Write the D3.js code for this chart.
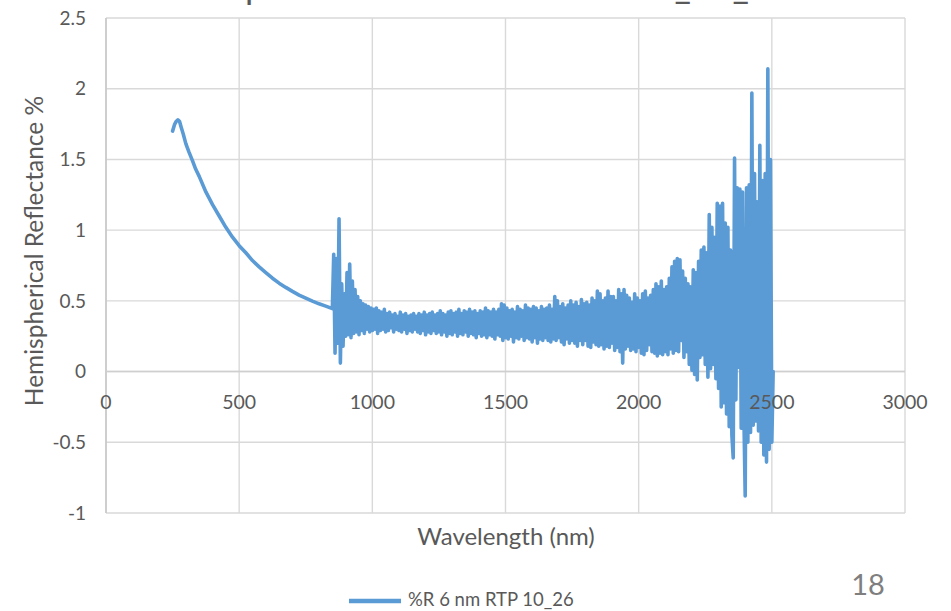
<!DOCTYPE html>
<html>
<head>
<meta charset="utf-8">
<script src="https://cdn.jsdelivr.net/npm/d3@7"></script>
<style>
  html, body { margin: 0; padding: 0; background: #ffffff; overflow: hidden; }
  svg { display: block; }
  text { font-family: Lato, "Open Sans", sans-serif; }
</style>
</head>
<body>
<script>
// ---- Data ----
const titleText = "Hemispherical Reflectance of RTP_10_26";
const seriesName = "%R 6 nm RTP 10_26";
const xTitle = "Wavelength (nm)";
const yTitle = "Hemispherical Reflectance %";
const pageNumber = "18";

const xTicks = [0, 500, 1000, 1500, 2000, 2500, 3000];
const yTicks = [-1, -0.5, 0, 0.5, 1, 1.5, 2, 2.5];
const yTickLabels = ["-1", "-0.5", "0", "0.5", "1", "1.5", "2", "2.5"];

// smooth UV/visible part
const smoothWl = [250, 258, 264, 270, 276, 282, 290, 300, 312, 325, 337, 350, 375, 400, 425, 450, 475, 500, 525, 550, 575, 600, 625, 650, 675, 700, 725, 750, 775, 800, 825, 850];
const smoothR  = [1.70, 1.75, 1.77, 1.78, 1.77, 1.73, 1.68, 1.61, 1.55, 1.49, 1.43, 1.38, 1.27, 1.18, 1.10, 1.02, 0.95, 0.89, 0.84, 0.785, 0.74, 0.70, 0.66, 0.625, 0.595, 0.567, 0.541, 0.519, 0.498, 0.479, 0.463, 0.445];

// noisy NIR part: wavelengths 855..2500 nm every 5 nm, then 2505
const noisyWl = [
  855, 860, 865, 870, 875, 880, 885, 890, 895, 900,
  905, 910, 915, 920, 925, 930, 935, 940, 945, 950,
  955, 960, 965, 970, 975, 980, 985, 990, 995, 1000,
  1005, 1010, 1015, 1020, 1025, 1030, 1035, 1040, 1045, 1050,
  1055, 1060, 1065, 1070, 1075, 1080, 1085, 1090, 1095, 1100,
  1105, 1110, 1115, 1120, 1125, 1130, 1135, 1140, 1145, 1150,
  1155, 1160, 1165, 1170, 1175, 1180, 1185, 1190, 1195, 1200,
  1205, 1210, 1215, 1220, 1225, 1230, 1235, 1240, 1245, 1250,
  1255, 1260, 1265, 1270, 1275, 1280, 1285, 1290, 1295, 1300,
  1305, 1310, 1315, 1320, 1325, 1330, 1335, 1340, 1345, 1350,
  1355, 1360, 1365, 1370, 1375, 1380, 1385, 1390, 1395, 1400,
  1405, 1410, 1415, 1420, 1425, 1430, 1435, 1440, 1445, 1450,
  1455, 1460, 1465, 1470, 1475, 1480, 1485, 1490, 1495, 1500,
  1505, 1510, 1515, 1520, 1525, 1530, 1535, 1540, 1545, 1550,
  1555, 1560, 1565, 1570, 1575, 1580, 1585, 1590, 1595, 1600,
  1605, 1610, 1615, 1620, 1625, 1630, 1635, 1640, 1645, 1650,
  1655, 1660, 1665, 1670, 1675, 1680, 1685, 1690, 1695, 1700,
  1705, 1710, 1715, 1720, 1725, 1730, 1735, 1740, 1745, 1750,
  1755, 1760, 1765, 1770, 1775, 1780, 1785, 1790, 1795, 1800,
  1805, 1810, 1815, 1820, 1825, 1830, 1835, 1840, 1845, 1850,
  1855, 1860, 1865, 1870, 1875, 1880, 1885, 1890, 1895, 1900,
  1905, 1910, 1915, 1920, 1925, 1930, 1935, 1940, 1945, 1950,
  1955, 1960, 1965, 1970, 1975, 1980, 1985, 1990, 1995, 2000,
  2005, 2010, 2015, 2020, 2025, 2030, 2035, 2040, 2045, 2050,
  2055, 2060, 2065, 2070, 2075, 2080, 2085, 2090, 2095, 2100,
  2105, 2110, 2115, 2120, 2125, 2130, 2135, 2140, 2145, 2150,
  2155, 2160, 2165, 2170, 2175, 2180, 2185, 2190, 2195, 2200,
  2205, 2210, 2215, 2220, 2225, 2230, 2235, 2240, 2245, 2250,
  2255, 2260, 2265, 2270, 2275, 2280, 2285, 2290, 2295, 2300,
  2305, 2310, 2315, 2320, 2325, 2330, 2335, 2340, 2345, 2350,
  2355, 2360, 2365, 2370, 2375, 2380, 2385, 2390, 2395, 2400,
  2405, 2410, 2415, 2420, 2425, 2430, 2435, 2440, 2445, 2450,
  2455, 2460, 2465, 2470, 2475, 2480, 2485, 2490, 2495, 2500,
  2505];
const noisyR = [
  0.83, 0.13, 0.80, 0.20, 1.08, 0.06, 0.62, 0.18, 0.55, 0.25,
  0.70, 0.26, 0.76, 0.24, 0.64, 0.27, 0.58, 0.28, 0.53, 0.26,
  0.50, 0.29, 0.48, 0.27, 0.47, 0.30, 0.46, 0.28, 0.45, 0.29,
  0.44, 0.30, 0.45, 0.27, 0.43, 0.29, 0.42, 0.30, 0.44, 0.28,
  0.41, 0.29, 0.42, 0.31, 0.40, 0.28, 0.41, 0.30, 0.39, 0.29,
  0.42, 0.28, 0.40, 0.30, 0.41, 0.27, 0.39, 0.29, 0.40, 0.28,
  0.41, 0.30, 0.39, 0.28, 0.41, 0.27, 0.40, 0.29, 0.42, 0.26,
  0.40, 0.28, 0.41, 0.27, 0.42, 0.29, 0.40, 0.27, 0.41, 0.28,
  0.43, 0.26, 0.41, 0.28, 0.40, 0.25, 0.42, 0.27, 0.43, 0.26,
  0.41, 0.28, 0.42, 0.25, 0.44, 0.27, 0.41, 0.26, 0.43, 0.28,
  0.42, 0.25, 0.44, 0.27, 0.42, 0.26, 0.43, 0.24, 0.41, 0.27,
  0.43, 0.25, 0.42, 0.26, 0.45, 0.24, 0.43, 0.26, 0.42, 0.25,
  0.44, 0.23, 0.42, 0.26, 0.44, 0.25, 0.48, 0.22, 0.47, 0.24,
  0.45, 0.23, 0.43, 0.25, 0.44, 0.21, 0.42, 0.24, 0.46, 0.23,
  0.44, 0.25, 0.43, 0.22, 0.47, 0.24, 0.45, 0.23, 0.44, 0.21,
  0.46, 0.24, 0.45, 0.20, 0.43, 0.23, 0.46, 0.22, 0.44, 0.24,
  0.45, 0.22, 0.47, 0.21, 0.44, 0.23, 0.53, 0.22, 0.50, 0.24,
  0.46, 0.21, 0.48, 0.19, 0.45, 0.23, 0.47, 0.20, 0.50, 0.22,
  0.47, 0.20, 0.49, 0.18, 0.46, 0.22, 0.51, 0.19, 0.48, 0.22,
  0.49, 0.18, 0.47, 0.17, 0.52, 0.21, 0.50, 0.19, 0.57, 0.18,
  0.55, 0.19, 0.50, 0.16, 0.52, 0.18, 0.57, 0.17, 0.53, 0.20,
  0.53, 0.15, 0.50, 0.17, 0.58, 0.14, 0.55, 0.06, 0.58, 0.16,
  0.54, 0.18, 0.52, 0.15, 0.49, 0.16, 0.55, 0.14, 0.52, 0.17,
  0.50, 0.13, 0.55, 0.12, 0.57, 0.15, 0.52, 0.19, 0.54, 0.14,
  0.58, 0.13, 0.62, 0.11, 0.60, 0.13, 0.64, 0.12, 0.58, 0.14,
  0.60, 0.12, 0.66, 0.16, 0.74, 0.13, 0.78, 0.15, 0.80, 0.14,
  0.79, 0.22, 0.71, 0.10, 0.66, 0.14, 0.62, 0.05, 0.60, 0.01,
  0.72, -0.02, 0.70, -0.06, 0.78, 0.10, 0.86, 0.12, 0.88, 0.05,
  0.84, -0.04, 1.11, 0.02, 1.02, 0.05, 0.95, -0.05, 1.19, -0.12,
  1.17, -0.25, 1.19, -0.22, 1.05, -0.30, 1.02, -0.39, 0.86, -0.45,
  -0.61, 1.51, -0.20, 1.30, 0.03, 1.29, -0.40, 1.27, -0.30, -0.88,
  1.30, -0.50, 1.32, -0.43, 1.97, -0.38, 1.40, -0.35, 1.20, -0.42,
  1.60, -0.50, 1.35, -0.59, 1.40, -0.64, 2.14, -0.55, 1.50, -0.50,
  0.00];

// ---- Layout ----
const W = 951, H = 611;
const svg = d3.select("body").append("svg").attr("width", W).attr("height", H);

const x = d3.scaleLinear().domain([0, 3000]).range([106, 905]);
const y = d3.scaleLinear().domain([-1, 2.5]).range([513, 18]);

const textCol = "#595959";
const gridCol = "#d9d9d9";
const lineCol = "#5b9bd5";

// slide title, cut off by the top edge of the picture (only descenders show)
const title = svg.append("text")
  .attr("x", 170).attr("y", -1.5)
  .attr("font-size", 33)
  .attr("fill", textCol)
  .text(titleText);
(function fitTitle() {
  const n = title.node();
  const pIdx = titleText.indexOf("p"), uIdx = titleText.indexOf("_");
  const centre = i => n.getStartPositionOfChar(i).x + n.getExtentOfChar(i).width / 2;
  const gap = centre(uIdx) - centre(pIdx);
  if (gap > 0) {
    const fs = 33 * (683 - 255) / gap;
    title.attr("font-size", fs);
    const shift = 255 - centre(pIdx);
    title.attr("x", 170 + shift);
  }
})();

// gridlines
svg.append("g").selectAll("line").data(yTicks).join("line")
  .attr("x1", x(0)).attr("x2", x(3000))
  .attr("y1", d => y(d)).attr("y2", d => y(d))
  .attr("stroke", gridCol).attr("stroke-width", 1.4);
svg.append("g").selectAll("line").data(xTicks).join("line")
  .attr("y1", y(2.5)).attr("y2", y(-1))
  .attr("x1", d => x(d)).attr("x2", d => x(d))
  .attr("stroke", gridCol).attr("stroke-width", 1.4);

// axis lines (value axis at x=0, category axis at y=0)
svg.append("line").attr("x1", x(0)).attr("x2", x(0)).attr("y1", y(2.5)).attr("y2", y(-1))
  .attr("stroke", "#c8c8c8").attr("stroke-width", 1.6);
svg.append("line").attr("x1", x(0)).attr("x2", x(3000)).attr("y1", y(0)).attr("y2", y(0))
  .attr("stroke", "#cfcfcf").attr("stroke-width", 1.6);

// series
const data = smoothWl.map((w, i) => [w, smoothR[i]])
  .concat(noisyWl.map((w, i) => [w, noisyR[i]]));
svg.append("path")
  .datum(data)
  .attr("d", d3.line().x(d => x(d[0])).y(d => y(d[1])))
  .attr("fill", "none")
  .attr("stroke", lineCol)
  .attr("stroke-width", 3.6)
  .attr("stroke-linejoin", "round")
  .attr("stroke-linecap", "round");

// y tick labels
svg.append("g").selectAll("text").data(yTicks).join("text")
  .attr("x", 86).attr("y", d => y(d))
  .attr("dy", "0.35em")
  .attr("text-anchor", "end")
  .attr("font-size", 19)
  .attr("fill", textCol)
  .text((d, i) => yTickLabels[i]);

// x tick labels (below the zero line)
svg.append("g").selectAll("text").data(xTicks).join("text")
  .attr("x", d => x(d)).attr("y", y(0) + 31)
  .attr("dy", "0.35em")
  .attr("text-anchor", "middle")
  .attr("font-size", 19.5)
  .attr("fill", textCol)
  .text(d => d);

// axis titles
svg.append("text")
  .attr("transform", `translate(34, 251) rotate(-90)`)
  .attr("text-anchor", "middle")
  .attr("dy", "0.35em")
  .attr("font-size", 24.5)
  .attr("fill", textCol)
  .text(yTitle);

svg.append("text")
  .attr("x", 506).attr("y", 537)
  .attr("dy", "0.35em")
  .attr("text-anchor", "middle")
  .attr("font-size", 24)
  .attr("fill", textCol)
  .text(xTitle);

// legend
svg.append("line").attr("x1", 349).attr("x2", 401).attr("y1", 601).attr("y2", 601)
  .attr("stroke", lineCol).attr("stroke-width", 4.5);
svg.append("text")
  .attr("x", 408).attr("y", 600)
  .attr("dy", "0.35em")
  .attr("font-size", 18.5)
  .attr("fill", textCol)
  .text(seriesName);

// page number
svg.append("text")
  .attr("x", 868).attr("y", 585)
  .attr("dy", "0.35em")
  .attr("text-anchor", "middle")
  .attr("font-size", 29)
  .attr("fill", "#7f7f7f")
  .text(pageNumber);
</script>
</body>
</html>
